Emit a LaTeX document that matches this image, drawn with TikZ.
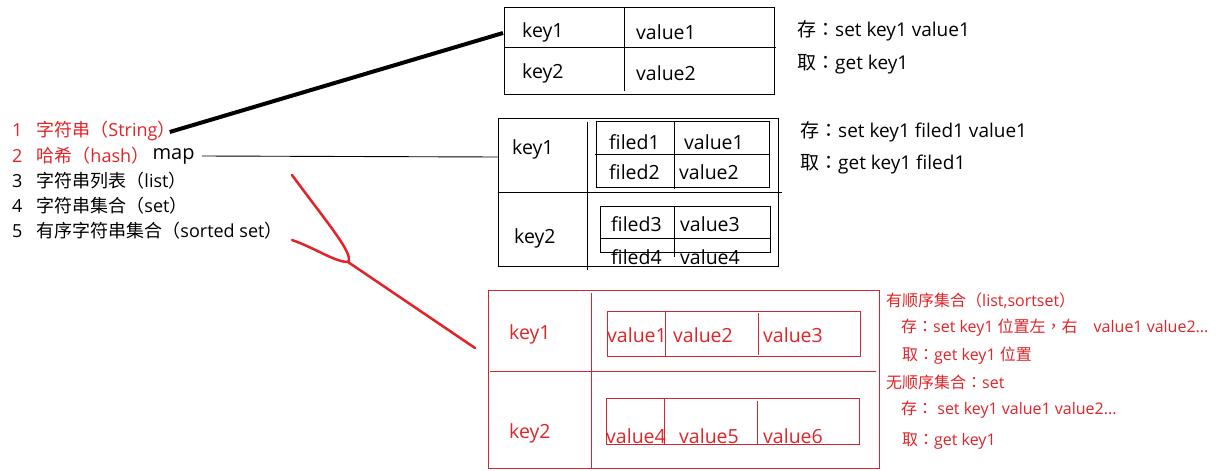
\documentclass[tikz,border=0pt]{standalone}
\usepackage{fontspec}
\setmainfont{Open Sans}
\newfontfamily\zh{Noto Sans CJK SC}
\newfontfamily\zhc{Noto Sans CJK TC}
\usetikzlibrary{positioning}
\definecolor{rojo}{RGB}{226,36,40}
\definecolor{rojotab}{RGB}{205,40,50}
\newcommand{\dospuntos}{{\zhc ：}}
\tikzset{
  txt/.style={anchor=west, inner sep=0pt, font=\fontsize{18}{20}\selectfont},
  celda/.style={anchor=west, inner sep=0pt, font=\fontsize{19.5}{21}\selectfont},
  nota/.style={anchor=west, inner sep=0pt, font=\fontsize{19}{21}\selectfont},
  notaroja/.style={anchor=west, inner sep=0pt, text=rojo, font=\fontsize{16}{18}\selectfont},
  tabla/.style={line width=0.9pt},
}
\begin{document}
\begin{tikzpicture}[x=1pt, y=-1pt]
\useasboundingbox[fill=white] (0,0) rectangle (1223,471);

% Lista de tipos
\node[txt, text=rojo] (tipo1) at (12,131) {1\hspace{14pt}{\zh 字符串（}String{\zh ）}};
\node[txt, text=rojo] (tipo2) at (12,156) {2\hspace{14pt}{\zh 哈希（}hash{\zh ）}};
\node[txt, font=\fontsize{20}{22}\selectfont, right=3pt of tipo2] (map) {map};
\node[txt] (tipo3) at (12,181) {3\hspace{14pt}{\zh 字符串列表（}list{\zh ）}};
\node[txt] (tipo4) at (12,206) {4\hspace{14pt}{\zh 字符串集合（}set{\zh ）}};
\node[txt] (tipo5) at (12,231) {5\hspace{14pt}{\zh 有序字符串集合（}sorted set{\zh ）}};

% Tabla 1: string
\draw[tabla] (504,7) rectangle (774,94);
\draw[tabla] (504,47) -- (776,47);
\draw[tabla] (624,8) -- (624,91);
\coordinate (t1w) at (503,33);
\node[celda] (k1a) at (522,32) {key1};
\node[celda] (v1a) at (636,32) {value1};
\node[celda] (k2a) at (522,73) {key2};
\node[celda] (v2a) at (636,73) {value2};
\node[nota] (set1) at (797,31) {{\zh 存}\dospuntos set key1 value1};
\node[nota] (get1) at (797,64) {{\zh 取}\dospuntos get key1};

% Tabla 2: hash
\draw[tabla] (498,118) rectangle (778,266);
\draw[tabla] (498,192) -- (782,192);
\draw[tabla] (587,122) -- (587,270);
\draw[tabla] (596,121) rectangle (769,187);
\draw[tabla] (595,154) -- (769,154);
\draw[tabla] (674,121) -- (674,189);
\draw[tabla] (600,206) rectangle (770,252);
\draw[tabla] (600,238) -- (770,238);
\draw[tabla] (674,206) -- (674,257);
\coordinate (t2w) at (498,157);
\node[celda] (k1b) at (512,149) {key1};
\node[celda] (k2b) at (514,238) {key2};
\node[celda] (f1) at (609,142) {filed1};
\node[celda] (v1b) at (684,142) {value1};
\node[celda] (f2) at (609,172) {filed2};
\node[celda] (v2b) at (679,172) {value2};
\node[celda] (f3) at (611,224) {filed3};
\node[celda] (v3b) at (680,224) {value3};
\node[celda] (f4) at (611,257) {filed4};
\node[celda] (v4b) at (680,257) {value4};
\node[nota] (set2) at (800,132) {{\zh 存}\dospuntos set key1 filed1 value1};
\node[nota] (get2) at (800,164) {{\zh 取}\dospuntos get key1 filed1};

% Tabla 3: list / set
\begin{scope}[draw=rojotab, tabla]
\draw (488,290) rectangle (879,468);
\draw (490,371) -- (876,371);
\draw (591,293) -- (591,468);
\draw (607,311) rectangle (860,356);
\draw (665,311) -- (665,356);
\draw (758,313) -- (758,355);
\draw (606,398) rectangle (859,444);
\draw (664,398) -- (664,444);
\draw (757,401) -- (757,444);
\end{scope}
\coordinate (t3w) at (475,348);
\node[celda, text=rojo] (k1c) at (509,334) {key1};
\node[celda, text=rojo] (w1) at (607,335) {value1};
\node[celda, text=rojo] (w2) at (673,335) {value2};
\node[celda, text=rojo] (w3) at (763,335) {value3};
\node[celda, text=rojo] (k2c) at (509,433) {key2};
\node[celda, text=rojo] (w4) at (606,436) {value4};
\node[celda, text=rojo] (w5) at (679,436) {value5};
\node[celda, text=rojo] (w6) at (763,436) {value6};
\node[notaroja] (ord) at (886,301) {{\zh 有顺序集合}{\zhc （}list,sortset{\zhc ）}};
\node[notaroja] (ordset) at (901,328) {{\zh 存}\dospuntos set key1 {\zh 位置左}{\zhc ，}{\zh 右}\quad value1 value2...};
\node[notaroja] (ordget) at (902,356) {{\zh 取}\dospuntos get key1 {\zh 位置}};
\node[notaroja] (des) at (886,382) {{\zh 无顺序集合}\dospuntos set};
\node[notaroja] (desset) at (901,410) {{\zh 存}\dospuntos\ set key1 value1 value2...};
\node[notaroja] (desget) at (902,441) {{\zh 取}\dospuntos get key1};

% Conectores
\draw[line width=4pt] ([xshift=-6pt,yshift=-1pt]tipo1.east) -- (t1w);
\draw[line width=0.9pt] ([xshift=7pt]map.east) -- (t2w);
\coordinate (cruce) at (348,262);
\draw[rojo, line width=2.5pt, line cap=round]
  (292,175) .. controls (325,220) and (355,255) .. (cruce)
  (292,240) .. controls (315,248) and (335,262) .. (cruce) -- (t3w);
\end{tikzpicture}
\end{document}
